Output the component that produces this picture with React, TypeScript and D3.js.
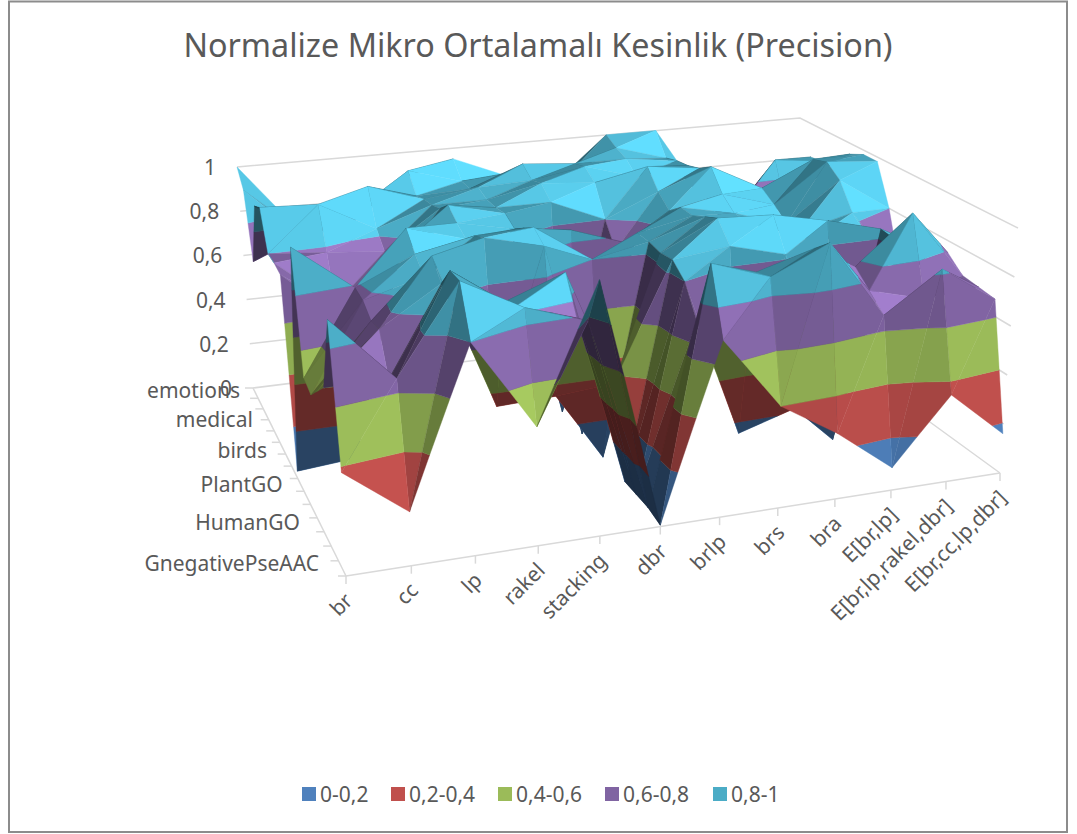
import React from "react";
import * as d3 from "d3";

const title = "Normalize Mikro Ortalamalı Kesinlik (Precision)";
const columnLabels = ["br","cc","lp","rakel","stacking","dbr","brlp","brs","bra","E[br,lp]","E[br,lp,rakel,dbr]","E[br,cc,lp,dbr]"];
const rowLabels = ["emotions","","","medical","","","birds","","","PlantGO","","","HumanGO","","","GnegativePseAAC"];
const zTicks = [0,0.2,0.4,0.6,0.8,1];
const zTickLabels = ["0","0,2","0,4","0,6","0,8","1"];
const legendLabels = ["0-0,2","0,2-0,4","0,4-0,6","0,6-0,8","0,8-1"];
const bandColors = ["#4F81BD","#C0504D","#9BBB59","#8064A2","#4BACC6"];
const surface = [
[1.0,.70,.70,.88,.95,.85,.80,1.0,1.0,.65,.65,.75],
[.93,.70,.75,.95,.88,.90,.85,.97,.90,.70,.70,.84],
[.65,.75,.85,.87,.88,.97,.95,.95,.92,.60,.88,.85],
[.93,.80,.97,.89,.92,.93,.97,.90,.93,.70,.68,.90],
[.96,.95,.82,.90,.90,.95,.93,.98,.95,.78,.84,.95],
[.80,.78,.76,.92,.90,.90,.80,.90,.99,.87,.98,.98],
[.80,.60,.72,.97,.91,.02,.70,.85,.90,.83,1.0,.98],
[.79,.58,.85,.93,.88,.85,.77,.90,.85,.78,.95,.80],
[.03,.05,.97,.90,.92,.02,.85,.90,.85,.78,.84,.55],
[.98,.79,.90,.95,.96,.80,.85,.93,.87,.78,.78,.60],
[.50,.78,.85,.98,.92,.02,.84,.96,.95,.90,.84,.72],
[.48,.74,.97,.34,.35,.37,.85,.88,.82,.01,.83,.75],
[.54,.75,.90,.80,.89,.02,.80,.15,.22,.78,.98,.69],
[.60,.60,.99,.82,.75,.02,.68,.85,.92,.72,.66,.68],
[.90,.65,.99,.86,.78,.02,.95,.87,.98,.66,.82,.67],
[.38,.20,.80,.45,.98,.005,.69,.40,.26,.09,.35,.16],
];

type P = [number,number];
type V = [number,number,number];
const floorBL:P=[253,388], floorBR:P=[791,321], floorFR:P=[1000,473], floorFL:P=[346,576];
const topBL:P=[237,167], topBR:P=[800,118], topFR:P=[1018,228], topFL:P=[334,304];
const wBL=1/221, wBR=1/203, wFR=1/245, wFL=1/272;
const nC=columnLabels.length, nR=rowLabels.length;
const sScale=d3.scaleLinear().domain([0,nC-1]).range([0,1]);
const uScale=d3.scaleLinear().domain([0,nR-1]).range([0,1]);

function project(c:number,r:number,v:number):P{
  const s=sScale(c),u=uScale(r);
  const a=(1-s)*(1-u)*wBL,b=s*(1-u)*wBR,d=s*u*wFR,e=(1-s)*u*wFL;
  const W=a+b+d+e;
  const mix=(A:P,B:P,D:P,E:P,i:number)=>(a*A[i]+b*B[i]+d*D[i]+e*E[i])/W;
  const fx=mix(floorBL,floorBR,floorFR,floorFL,0),fy=mix(floorBL,floorBR,floorFR,floorFL,1);
  const tx=mix(topBL,topBR,topFR,topFL,0),ty=mix(topBL,topBR,topFR,topFL,1);
  return [fx+(tx-fx)*v,fy+(ty-fy)*v];
}

function clip(poly:V[],limit:number,keepAbove:boolean):V[]{
  const out:V[]=[];
  for(let i=0;i<poly.length;i++){
    const A=poly[i],B=poly[(i+1)%poly.length];
    const ia=keepAbove?A[2]>=limit:A[2]<=limit, ib=keepAbove?B[2]>=limit:B[2]<=limit;
    if(ia)out.push(A);
    if(ia!==ib){const t=(limit-A[2])/(B[2]-A[2]);out.push([A[0]+(B[0]-A[0])*t,A[1]+(B[1]-A[1])*t,limit]);}
  }
  return out;
}

const UNIT_X=1,UNIT_Y=0.45,UNIT_Z=4;
const L=[0.35,0.6,0.72];
function shade(a:V,b:V,c:V):number{
  const ux=(b[0]-a[0])*UNIT_X,uy=(b[1]-a[1])*UNIT_Y,uz=(b[2]-a[2])*UNIT_Z;
  const vx=(c[0]-a[0])*UNIT_X,vy=(c[1]-a[1])*UNIT_Y,vz=(c[2]-a[2])*UNIT_Z;
  let nx=uy*vz-uz*vy,ny=uz*vx-ux*vz,nz=ux*vy-uy*vx;
  const len=Math.hypot(nx,ny,nz)||1;nx/=len;ny/=len;nz/=len;
  const area=(p:V,q:V,w:V)=>{const P1=project(p[0],p[1],p[2]),P2=project(q[0],q[1],q[2]),P3=project(w[0],w[1],w[2]);
    return (P2[0]-P1[0])*(P3[1]-P1[1])-(P2[1]-P1[1])*(P3[0]-P1[0]);};
  const refSign=Math.sign(area([0,0,0],[1,0,0],[0,1,0]));
  const normalUp=nz>=0;
  const sameWinding=Math.sign(area(a,b,c))===refSign;
  const topVisible=normalUp===sameWinding;
  if(!normalUp){nx=-nx;ny=-ny;nz=-nz;}
  const d=nx*L[0]+ny*L[1]+nz*L[2];
  if(!topVisible){
    return Math.min(0.52,Math.max(0.36,0.42-0.2*d));
  }
  if(d<0.72) return Math.max(0.38,0.9-0.55*(0.72-d));
  return Math.min(1.45,0.9+1.45*(d-0.72));
}
function tint(col:string,f:number){const c=d3.rgb(col);return d3.rgb(Math.min(255,c.r*f),Math.min(255,c.g*f),Math.min(255,c.b*f)).formatHex();}

const pathOf=d3.line<P>().x(d=>d[0]).y(d=>d[1]).curve(d3.curveLinearClosed);

function buildPolys(){
  const polys:{d:string,fill:string}[]=[];
  const addTri=(a:V,b:V,c:V)=>{
    const f=shade(a,b,c);
    bandColors.forEach((col,k)=>{
      const lo=k*0.2,hi=(k+1)*0.2;
      let p=clip([a,b,c],lo,true);
      if(p.length)p=clip(p,hi,false);
      if(p.length<3)return;
      const fill=tint(col,f);
      polys.push({d:pathOf(p.map(q=>project(q[0],q[1],q[2])))!,fill});
    });
  };
  for(let r=0;r<nR-1;r++){
    for(let c=nC-2;c>=0;c--){
      const A:V=[c,r,surface[r][c]],B:V=[c+1,r,surface[r][c+1]],C:V=[c+1,r+1,surface[r+1][c+1]],D:V=[c,r+1,surface[r+1][c]];
      addTri(A,B,D);
      addTri(B,C,D);
    }
  }
  return polys;
}

const gridColor="#D9D9D9",textColor="#595959",font="'Noto Sans', 'Open Sans', sans-serif";
const rowDx=d3.scaleLinear().domain([0,nR-1]).range([-13,-27]);
const rowDy=d3.scaleLinear().domain([0,nR-1]).range([2,-13]);

export default function App(){
  const polys=buildPolys();
  const P0=(c:number,r:number,v:number)=>project(c,r,v);
  return (
    <svg width={1077} height={834} style={{position:"absolute",left:0,top:0,background:"#fff"}} fontFamily={font}>
      <rect x={9} y={1.5} width={1058} height={830.5} fill="none" stroke="#8C8C8C" strokeWidth={2}/>
      <text x={538} y={57} textAnchor="middle" fontSize={32.3} fill={textColor}>{title}</text>
      {zTicks.map((z,i)=>{const a=P0(0,0,z),b=P0(nC-1,0,z),e=P0(nC-1,nR-1,z);return (
        <g key={i}>
          <polyline points={`${a} ${b} ${e}`} fill="none" stroke={gridColor} strokeWidth={1.5}/>
          <text x={a[0]-21} y={a[1]+8} textAnchor="end" fontSize={21} fill={textColor}>{zTickLabels[i]}</text>
        </g>);})}
      <line x1={P0(0,0,0)[0]} y1={P0(0,0,0)[1]} x2={P0(0,nR-1,0)[0]} y2={P0(0,nR-1,0)[1]} stroke={gridColor} strokeWidth={1.5}/>
      <line x1={P0(0,nR-1,0)[0]} y1={P0(0,nR-1,0)[1]} x2={P0(nC-1,nR-1,0)[0]} y2={P0(nC-1,nR-1,0)[1]} stroke={gridColor} strokeWidth={1.5}/>
      {rowLabels.map((l,r)=>{const p=P0(0,r,0);return (
        <g key={r}>
          <line x1={p[0]} y1={p[1]} x2={p[0]-8} y2={p[1]} stroke={gridColor} strokeWidth={1.5}/>
          {l&&<text x={p[0]+rowDx(r)} y={p[1]+rowDy(r)+8} textAnchor="end" fontSize={21} fill={textColor}>{l}</text>}
        </g>);})}
      {columnLabels.map((l,c)=>{const p=P0(c,nR-1,0);return (
        <g key={c}>
          <line x1={p[0]} y1={p[1]} x2={p[0]} y2={p[1]+8} stroke={gridColor} strokeWidth={1.5}/>
          <text transform={`translate(${p[0]+8},${p[1]+26}) rotate(-45)`} textAnchor="end" fontSize={21} fill={textColor}>{l}</text>
        </g>);})}
      <g>{polys.map((p,i)=><path key={i} d={p.d} fill={p.fill} stroke={p.fill} strokeWidth={0.4}/>)}</g>
      {legendLabels.map((l,i)=>{const xs=[302,391,498,605,713];return (
        <g key={i}>
          <rect x={xs[i]} y={787} width={14} height={14} fill={bandColors[i]}/>
          <text x={xs[i]+18} y={802} fontSize={21} fill={textColor}>{l}</text>
        </g>);})}
    </svg>
  );
}
